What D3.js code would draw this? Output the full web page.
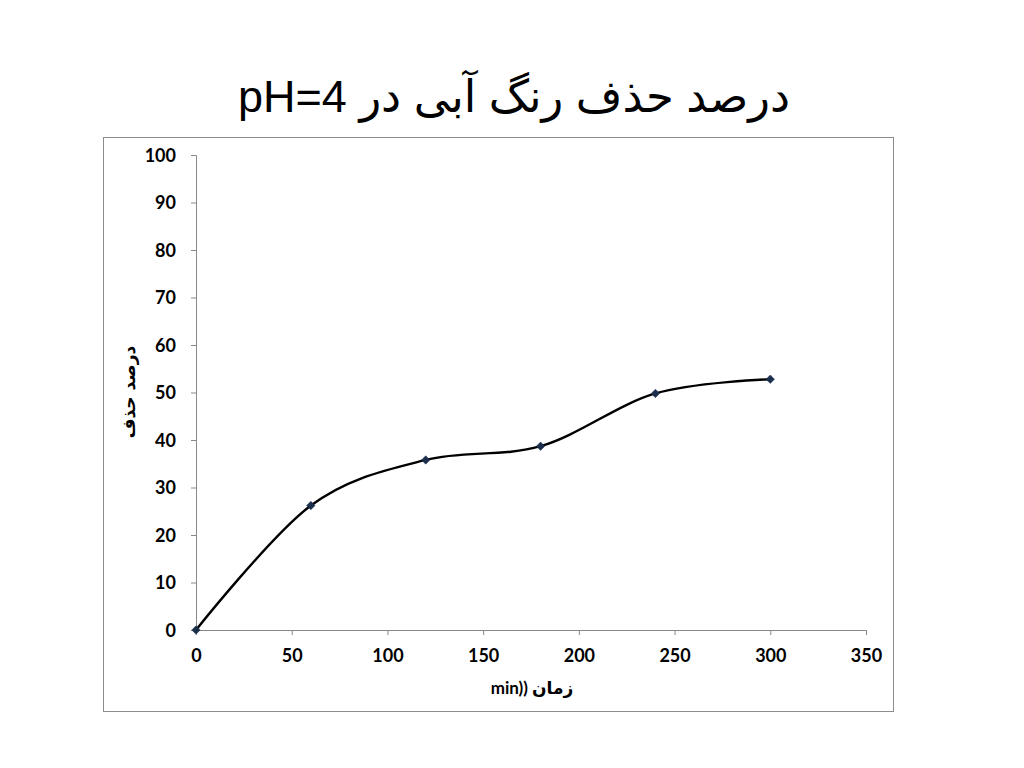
<!DOCTYPE html>
<html><head><meta charset="utf-8">
<script src="https://cdn.jsdelivr.net/npm/d3@7"></script>
<style>body{margin:0;background:#fff}</style>
</head><body>
<svg id="c" width="1024" height="768"></svg>
<script>
const timeMin = [0, 60, 120, 180, 240, 300];
const removalPct = [0, 26.2, 35.8, 38.7, 49.8, 52.8];
const xTicks = [0, 50, 100, 150, 200, 250, 300, 350];
const yTicks = [0, 10, 20, 30, 40, 50, 60, 70, 80, 90, 100];
const titleText = "درصد حذف رنگ آبی در pH=4";
const yLabel = "درصد حذف";
const xLabel = "min)) زمان";

const svg = d3.select("#c");
const axisColor = "#898989";
const numFont = "Lato, 'Open Sans', 'DejaVu Sans', sans-serif";

svg.append("rect").attr("x",103.5).attr("y",137.5).attr("width",790).attr("height",574)
  .attr("fill","#fff").attr("stroke","#8c8c8c").attr("stroke-width",1);

svg.append("text").attr("x",514).attr("y",112).attr("text-anchor","middle")
  .attr("direction","rtl")
  .style("font-family","'Liberation Sans', Arial, 'DejaVu Sans', sans-serif")
  .style("font-size","45px").attr("fill","#000").text(titleText);

const x = d3.scaleLinear().domain([0,350]).range([196,866]);
const y = d3.scaleLinear().domain([0,100]).range([630,155]);

const xAxis = svg.append("g").attr("transform","translate(0,630)")
  .call(d3.axisBottom(x).tickValues(xTicks).tickSize(5).tickPadding(14).tickFormat(d3.format("d")));
const yAxis = svg.append("g").attr("transform","translate(196,0)")
  .call(d3.axisLeft(y).tickValues(yTicks).tickSize(5).tickPadding(15).tickFormat(d3.format("d")));
[xAxis,yAxis].forEach(g=>{
  g.select(".domain").attr("stroke",axisColor).attr("stroke-width",1);
  g.selectAll(".tick line").attr("stroke",axisColor);
  g.selectAll(".tick text").attr("fill","#000")
    .style("font-family",numFont).style("font-size","18px").style("font-weight","bold");
});
yAxis.selectAll(".tick text").attr("dy","0.35em");

svg.append("text").attr("transform","translate(135,392) rotate(-90)")
  .attr("text-anchor","middle").attr("direction","rtl")
  .style("font-family","'DejaVu Sans', sans-serif").style("font-size","17px").style("font-weight","bold")
  .attr("fill","#000").text(yLabel);

svg.append("text").attr("x",532).attr("y",694).attr("text-anchor","middle").attr("direction","ltr")
  .style("font-family",numFont).style("font-size","17px").style("font-weight","bold")
  .attr("fill","#000").text(xLabel);

const data = timeMin.map((t,i)=>({t, v: removalPct[i]}));
const line = d3.line().x(d=>x(d.t)).y(d=>y(d.v)).curve(d3.curveCardinal.tension(0));
svg.append("path").datum(data).attr("d",line).attr("fill","none")
  .attr("stroke","#000").attr("stroke-width",2.4);

svg.selectAll(".m").data(data).enter().append("path")
  .attr("transform",d=>`translate(${x(d.t)},${y(d.v)})`)
  .attr("d",d3.symbol(d3.symbolDiamond2,45)())
  .attr("fill","#1b2f4d").attr("stroke","#1b2f4d").attr("stroke-width",0.5);
</script>
</body></html>
